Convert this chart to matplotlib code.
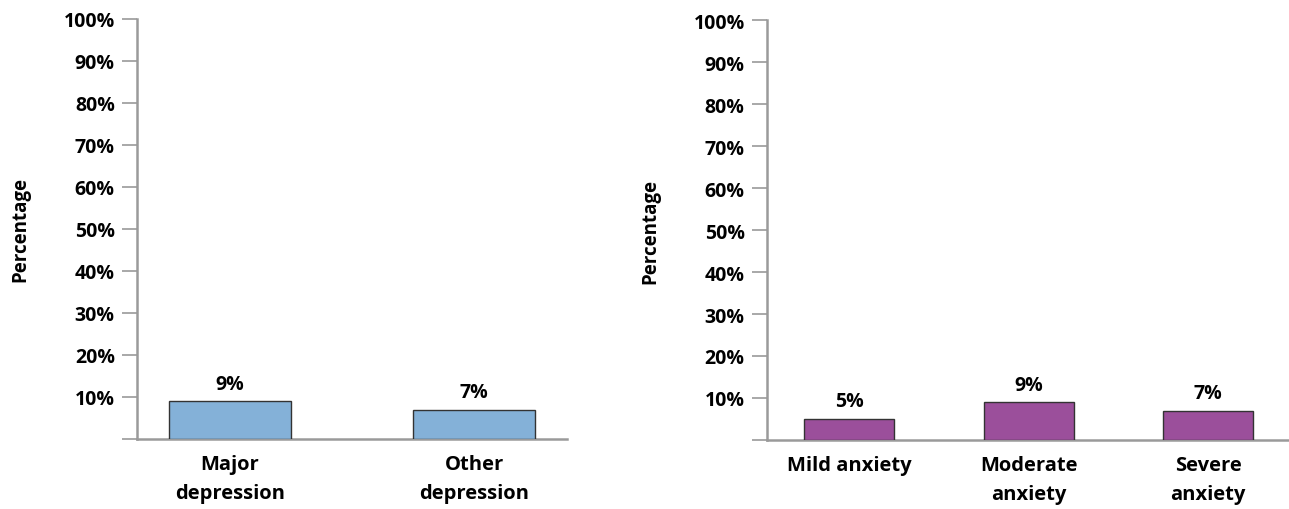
import numpy as np
import matplotlib
matplotlib.use("Agg")
from matplotlib import pyplot as plt

plt.rcParams['font.family'] = ['Open Sans', 'DejaVu Sans']

# Depression and anxiety shares (percent)
dep_labels = ["Major\ndepression", "Other\ndepression"]
dep_values = [9, 7]
anx_labels = ["Mild anxiety", "Moderate\nanxiety", "Severe\nanxiety"]
anx_values = [5, 9, 7]
yticks = np.arange(0, 101, 10)
ytick_labels = [""] + ["%d%%" % v for v in yticks[1:]]

grey = "#9a9a9a"


def draw_panel(ax, labels, values, color, xlim):
    x = np.arange(len(values))
    ax.bar(x, values, width=0.5, color=color, edgecolor="#333333",
           linewidth=1.0, zorder=3)
    for xi, v in zip(x, values):
        ax.text(xi, v + 1.8, "%d%%" % v, ha="center", va="bottom",
                fontsize=14, fontweight="bold")
    ax.set_xlim(*xlim)
    ax.set_ylim(0, 100)
    ax.set_yticks(yticks)
    ax.set_yticklabels(ytick_labels, fontsize=14, fontweight="bold")
    ax.set_xticks(x)
    ax.set_xticklabels(labels, fontsize=14.5, fontweight="bold",
                       linespacing=1.6)
    ax.tick_params(axis="x", length=0, pad=11)
    ax.tick_params(axis="y", length=11, width=1.2, color=grey, pad=5)
    for side in ("top", "right"):
        ax.spines[side].set_visible(False)
    for side in ("left", "bottom"):
        ax.spines[side].set_color(grey)
        ax.spines[side].set_linewidth(1.8)
    ax.set_ylabel("Percentage", fontsize=13.5, fontweight="bold", labelpad=24)


fig = plt.figure(figsize=(12.89, 5.10), dpi=100)
ax1 = fig.add_axes([0.1063, 0.1373, 0.3336, 0.8235])
ax2 = fig.add_axes([0.5950, 0.1353, 0.4050, 0.8235])

draw_panel(ax1, dep_labels, dep_values, "#84b1d8", (-0.381, 1.381))
draw_panel(ax2, anx_labels, anx_values, "#9b4f9b", (-0.457, 2.45))

fig.savefig("out.png", dpi=100)
